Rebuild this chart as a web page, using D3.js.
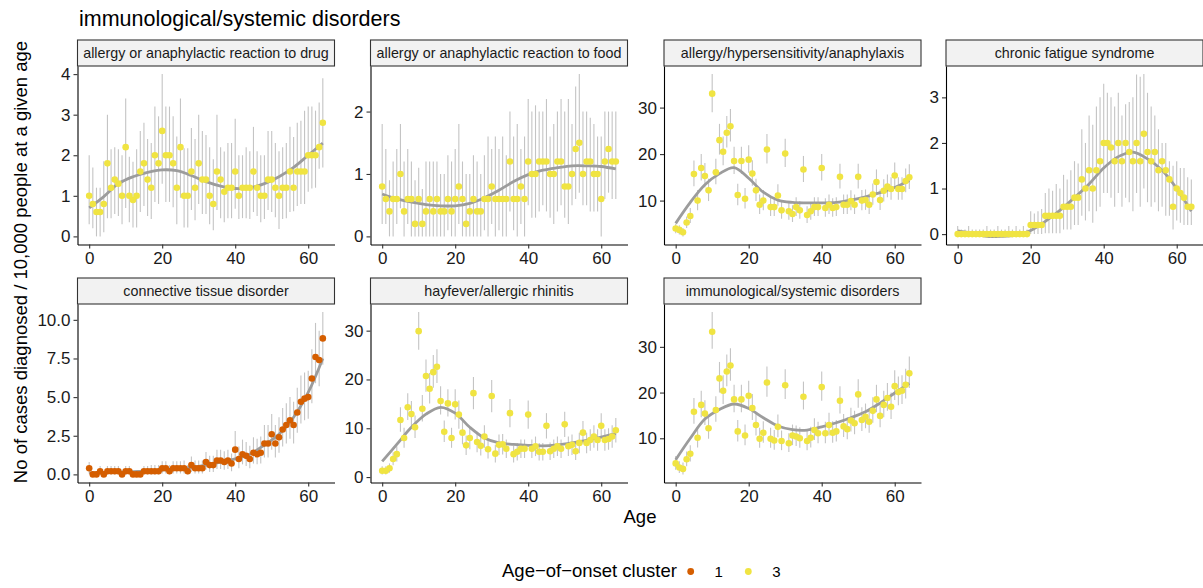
<!DOCTYPE html>
<html>
<head>
<meta charset="utf-8">
<script src="https://cdn.jsdelivr.net/npm/d3@7"></script>
<style>
  body { margin: 0; background: #ffffff; }
  svg { display: block; font-family: "Liberation Sans", Arial, Helvetica, sans-serif; }
</style>
</head>
<body>
<svg id="chart" width="1203" height="588"></svg>
<script>
// ---- Data: diagnoses per 10,000 people at each age (0-64) ----
const ages = [0,1,2,3,4,5,6,7,8,9,10,11,12,13,14,15,16,17,18,19,20,21,22,23,24,25,26,27,28,29,30,31,32,33,34,35,36,37,38,39,40,41,42,43,44,45,46,47,48,49,50,51,52,53,54,55,56,57,58,59,60,61,62,63,64];
const smoothAges = [0,4,8,12,16,20,24,28,32,36,40,44,48,52,56,60,64];

const panelTitles = [
  "allergy or anaphylactic reaction to drug",
  "allergy or anaphylactic reaction to food",
  "allergy/hypersensitivity/anaphylaxis",
  "chronic fatigue syndrome",
  "connective tissue disorder",
  "hayfever/allergic rhinitis",
  "immunological/systemic disorders"
];
const panelCluster = [3, 3, 3, 3, 1, 3, 3];

const drugRate  = [1.0,0.8,0.6,0.6,0.8,1.8,1.2,1.4,1.3,1.0,2.2,1.0,0.9,1.0,1.6,1.8,1.4,1.2,2.0,1.8,2.6,2.0,2.0,1.8,1.2,2.2,1.0,1.0,1.6,1.2,1.8,1.4,1.4,1.0,0.8,1.6,1.4,1.1,1.2,1.2,1.6,1.0,1.2,1.2,1.2,1.6,1.2,1.0,1.0,1.4,1.4,1.2,1.0,1.2,1.2,1.6,1.2,1.6,1.6,1.6,2.0,2.0,2.0,2.2,2.8];
const drugLower = [0.3,0.2,0.0,0.0,0.1,0.45,0.45,0.55,0.5,0.3,0.7,0.35,0.22,0.22,0.6,0.75,0.5,0.43,0.85,0.8,1.3,0.85,0.85,0.72,0.3,0.95,0.22,0.22,0.65,0.4,0.8,0.55,0.55,0.3,0.15,0.65,0.45,0.35,0.45,0.45,0.68,0.43,0.45,0.45,0.43,0.6,0.5,0.35,0.43,0.65,0.6,0.47,0.18,0.43,0.45,0.6,0.62,0.75,0.8,0.8,1.1,1.18,1.2,1.67,1.7];
const drugUpper = [2.0,1.7,1.2,1.2,1.85,3.0,2.15,2.2,2.15,2.0,3.4,1.96,1.84,2.15,2.6,2.8,2.4,2.3,3.2,2.96,4.0,3.2,3.2,2.96,2.46,3.4,2.17,2.17,2.67,2.4,3.0,2.6,2.5,2.2,1.9,3.0,2.2,2.09,2.3,2.3,2.9,2.0,2.0,2.2,2.1,2.7,2.1,2.0,2.0,2.6,2.6,2.3,2.1,2.2,2.3,2.7,2.45,2.8,2.85,3.1,3.2,3.2,3.1,3.3,3.9];
const drugSmooth = [0.7,0.98,1.3,1.47,1.58,1.64,1.62,1.5,1.35,1.24,1.18,1.2,1.3,1.47,1.7,2.0,2.3];

const foodRate  = [0.8,0.6,0.4,0.6,0.6,1.0,0.4,0.6,0.6,0.2,0.6,0.2,0.4,0.6,0.4,0.6,0.4,0.4,0.6,0.4,0.6,0.8,0.6,0.2,0.4,0.6,0.4,0.4,0.6,0.6,0.8,0.6,0.6,0.6,0.6,1.2,0.6,0.6,0.8,0.6,1.2,1.0,1.0,1.2,1.2,1.2,1.0,1.0,1.2,1.2,0.8,0.8,1.0,1.4,1.5,1.0,1.2,1.2,1.0,1.0,0.6,1.2,1.4,1.2,1.2];
const foodLower = [0.2,0.2,0.0,0.0,0.2,0.45,0.0,0.2,0.0,0.0,0.0,0.0,0.0,0.0,0.0,0.0,0.0,0.0,0.1,0.0,0.0,0.2,0.0,0.0,0.0,0.0,0.0,0.0,0.1,0.0,0.2,0.0,0.1,0.0,0.0,0.4,0.1,0.0,0.2,0.0,0.5,0.3,0.3,0.4,0.5,0.4,0.3,0.2,0.4,0.5,0.3,0.2,0.5,0.6,0.7,0.5,0.5,0.4,0.4,0.4,0.0,0.6,0.7,0.6,0.6];
const foodUpper = [1.8,1.4,0.9,1.2,1.4,1.8,1.2,1.4,1.2,0.9,1.1,0.76,1.2,1.2,1.2,1.2,1.0,1.0,1.3,1.2,1.4,1.8,1.2,1.0,1.0,1.3,1.2,1.0,1.3,1.6,1.4,1.6,1.4,1.6,1.3,2.0,1.6,1.8,1.4,1.6,2.2,2.0,2.1,2.0,2.0,2.2,1.6,1.8,2.0,2.2,2.0,2.2,1.8,2.4,2.6,2.0,2.0,1.9,1.8,1.6,1.6,2.0,2.0,2.0,2.0];
const foodSmooth = [0.68,0.6,0.55,0.51,0.49,0.49,0.53,0.62,0.74,0.88,0.99,1.06,1.1,1.13,1.13,1.12,1.08];

const hyperRate  = [4.0,3.7,3.2,5.3,6.7,15.7,10.0,17.0,15.3,12.2,33.0,16.1,23.0,20.5,24.6,26.0,18.5,11.2,18.5,10.4,18.8,15.8,12.2,9.1,10.0,21.0,8.6,8.6,11.1,7.9,20.1,7.7,7.1,8.6,7.9,16.7,6.9,7.7,8.6,8.6,17.0,8.4,9.1,8.4,8.6,15.1,9.1,9.1,9.9,9.1,15.1,10.0,10.1,9.1,11.3,14.0,10.1,12.1,13.0,12.5,15.4,12.5,12.5,14.2,15.0];
const hyperLower = [3.0,2.7,2.3,4.1,5.2,13.1,7.9,14.3,12.8,9.9,29.0,13.5,19.9,17.6,21.4,22.7,15.7,9.0,15.7,8.3,16.0,13.2,9.9,7.1,7.9,18.0,6.7,6.7,8.9,6.1,17.2,5.9,5.4,6.7,6.1,14.0,5.2,5.9,6.7,6.7,14.3,6.5,7.1,6.5,6.7,12.6,7.1,7.1,7.9,7.1,12.6,7.9,8.0,7.1,9.1,11.6,8.0,9.8,10.7,10.2,12.9,10.2,10.2,11.8,12.5];
const hyperUpper = [5.0,4.7,4.1,6.6,8.4,18.6,12.3,20.0,18.1,14.7,37.2,19.0,26.5,23.8,28.2,29.7,21.6,13.6,21.6,12.7,21.9,18.7,14.7,11.3,12.3,24.3,10.7,10.7,13.5,9.9,23.3,9.7,9.0,10.7,9.9,19.6,8.8,9.7,10.7,10.7,20.0,10.5,11.3,10.5,10.7,17.9,11.3,11.3,12.2,11.3,17.9,12.3,12.4,11.3,13.7,16.7,12.4,14.6,15.6,15.0,18.2,15.0,15.0,16.9,17.8];
const hyperSmooth = [5.1,9.6,13.4,15.8,17.1,14.8,11.8,10.1,9.6,9.5,9.5,9.6,10.1,10.8,11.7,12.8,14.3];

const cfsRate  = [0,0,0,0,0,0,0,0,0,0,0,0,0,0,0,0,0,0,0,0,0.2,0.2,0.2,0.2,0.4,0.4,0.4,0.4,0.4,0.6,0.6,0.6,0.8,0.8,1.2,1.0,1.4,1.0,1.4,1.6,2.0,2.0,1.9,1.6,2.0,1.6,2.0,1.8,1.6,2.0,1.6,2.2,1.8,1.6,1.8,1.4,1.6,1.4,1.2,0.6,1.0,0.9,0.8,0.6,0.6];
const cfsLower = [0,0,0,0,0,0,0,0,0,0,0,0,0,0,0,0,0,0,0,0,0,0,0,0,0.02,0.02,0.02,0.02,0.02,0.1,0.1,0.1,0.2,0.2,0.4,0.3,0.5,0.25,0.5,0.6,0.9,0.9,0.8,0.6,0.9,0.6,0.8,0.7,0.5,0.9,0.6,1.0,0.7,0.6,0.7,0.5,0.6,0.4,0.4,0.1,0.3,0.25,0.2,0.2,0.2];
const cfsUpper = [0.18,0.1,0.1,0.18,0.1,0.1,0.1,0.1,0.18,0.1,0.1,0.18,0.1,0.1,0.18,0.1,0.18,0.1,0.18,0.1,0.5,0.45,0.5,0.55,0.9,1.0,0.95,1.1,1.0,1.3,1.2,1.4,1.6,1.55,2.3,2.0,2.6,2.4,2.8,3.0,3.3,3.1,3.0,2.8,3.1,2.6,2.85,2.9,3.0,3.5,3.45,3.51,3.1,2.8,2.6,2.3,2.0,2.0,1.6,1.5,1.6,1.45,1.45,1.25,1.2];
const cfsSmooth = [0.07,0.02,-0.05,-0.05,-0.02,0.08,0.28,0.52,0.8,1.1,1.45,1.7,1.8,1.65,1.4,1.0,0.5];

const connRate  = [0.4,0.0,0.0,0.2,0.0,0.2,0.2,0.2,0.2,0.0,0.2,0.2,0.0,0.0,0.0,0.2,0.2,0.2,0.2,0.2,0.4,0.4,0.2,0.4,0.4,0.4,0.4,0.2,0.6,0.4,0.4,0.4,0.8,0.6,0.6,0.9,0.9,0.8,0.9,0.7,1.6,1.0,1.3,1.2,1.0,1.4,1.3,1.4,2.0,2.0,2.6,2.0,2.4,2.9,3.2,3.5,3.2,4.0,4.7,4.9,5.0,6.2,7.6,7.4,8.8];
const connLower = [0.05,0,0,0,0,0,0,0,0,0,0,0,0,0,0,0,0,0,0,0,0.05,0.05,0,0.05,0.05,0.05,0.05,0,0.15,0.05,0.05,0.05,0.3,0.15,0.15,0.35,0.35,0.3,0.35,0.2,0.9,0.4,0.65,0.55,0.4,0.7,0.65,0.7,1.1,1.1,1.6,1.1,1.4,1.8,2.0,2.3,2.0,2.7,3.3,3.5,3.6,4.6,5.9,5.7,7.1];
const connUpper = [0.8,0.2,0.2,0.55,0.2,0.55,0.55,0.55,0.55,0.2,0.55,0.55,0.2,0.2,0.2,0.55,0.55,0.6,0.6,0.6,0.85,0.85,0.6,0.85,0.85,0.85,0.9,0.6,1.15,0.9,0.9,0.9,1.45,1.2,1.2,1.6,1.6,1.5,1.6,1.35,2.8,1.8,2.25,2.1,1.85,2.4,2.3,2.45,3.2,3.2,3.9,3.2,3.7,4.3,4.6,5.0,4.7,5.6,6.4,6.6,6.7,8.1,9.8,9.3,10.5];
const connSmooth = [0.1,0.1,0.15,0.18,0.2,0.28,0.35,0.45,0.6,0.8,1.0,1.3,1.9,2.6,3.7,5.3,7.5];

const hayRate  = [1.3,1.3,1.8,3.7,4.7,11.7,8.0,14.3,12.9,10.2,29.9,14.0,20.7,18.1,21.5,22.6,15.6,9.3,15.1,8.0,14.9,12.8,9.1,6.5,8.0,17.2,7.2,6.4,8.3,5.7,16.6,4.8,6.6,6.7,5.8,13.1,4.7,5.2,5.8,5.8,12.8,5.8,6.3,5.2,5.2,10.5,5.3,5.8,6.3,5.8,10.8,6.3,6.6,5.3,7.0,9.1,7.0,7.6,8.3,7.6,10.5,7.6,7.8,8.3,9.6];
const hayLower = [0.55,0.55,0.9,2.4,3.2,9.3,6.0,11.7,10.4,8.0,26.1,11.4,17.5,15.1,18.3,19.3,12.8,7.2,12.4,6.0,11.8,9.9,6.7,4.5,5.7,13.9,5.1,4.4,6.0,3.8,13.3,3.0,4.5,4.6,3.9,10.2,3.0,3.4,3.9,3.9,9.9,3.9,4.3,3.4,3.4,7.9,3.5,3.9,4.3,3.9,8.2,4.3,4.5,3.5,4.9,6.7,4.9,5.4,6.0,5.4,7.9,5.4,5.6,6.0,7.1];
const hayUpper = [2.2,2.2,2.8,5.1,6.3,14.3,10.1,17.2,15.6,12.6,33.8,16.8,24.1,21.3,25.0,26.2,18.6,11.6,18.0,10.1,18.0,15.7,11.5,8.5,10.3,20.5,9.3,8.4,10.6,7.6,19.9,6.6,8.7,8.8,7.7,16.0,6.4,7.0,7.7,7.7,15.7,7.7,8.3,7.0,7.0,13.1,7.1,7.7,8.3,7.7,13.4,8.3,8.7,7.1,9.1,11.5,9.1,9.8,10.6,9.8,13.1,9.8,10.0,10.6,12.1];
const haySmooth = [3.2,6.7,10.2,12.9,14.3,13.1,10.2,8.0,7.0,6.7,6.5,6.4,6.6,7.0,7.5,8.2,8.9];

const sysRate  = [4.5,3.6,3.3,5.4,6.6,15.8,10.1,17.3,15.4,12.2,33.3,16.2,23.1,20.4,24.6,25.9,18.5,11.5,18.5,10.6,19.3,16.6,12.9,9.9,11.2,22.2,9.9,9.5,12.5,9.4,21.6,8.9,10.6,10.4,10.0,19.1,9.4,10.1,11.8,11.1,21.2,11.1,12.9,11.2,11.5,18.2,12.6,12.0,13.9,13.3,19.6,14.0,14.7,13.6,16.0,18.5,14.9,17.3,18.8,16.9,21.4,20.1,20.4,21.7,24.2];
const sysLower = [3.1,2.4,2.1,3.9,4.9,13.2,8.0,14.6,12.9,9.9,29.6,13.6,20.0,17.5,21.4,22.6,15.7,9.3,15.7,8.5,16.4,14.0,10.6,7.9,9.0,19.1,7.9,7.5,10.2,7.4,18.6,7.0,8.5,8.3,7.9,16.3,7.4,8.0,9.6,8.9,18.2,8.9,10.6,9.0,9.3,15.4,10.3,9.8,11.5,10.9,16.7,11.6,12.2,11.2,13.4,15.7,12.4,14.6,16.0,14.2,18.4,17.2,17.5,18.7,21.0];
const sysUpper = [6.1,5.0,4.7,7.1,8.5,18.8,12.5,20.4,18.3,14.8,37.6,19.2,26.7,23.8,28.3,29.7,21.7,14.0,21.7,13.0,22.6,19.7,15.6,12.3,13.7,25.7,12.3,11.8,15.2,11.7,25.1,11.1,13.0,12.8,12.4,22.4,11.7,12.5,14.4,13.6,24.6,13.6,15.6,13.7,14.0,21.4,15.3,14.6,16.7,16.0,22.9,16.8,17.6,16.4,19.0,21.7,17.8,20.4,22.1,20.0,24.9,23.5,23.8,25.2,27.9];
const sysSmooth = [5.3,10.0,14.2,16.3,17.5,16.5,14.5,12.7,11.9,11.8,12.5,13.4,14.5,15.8,17.7,19.9,22.0];

// Axis ticks
const xTicks = [0, 20, 40, 60];
const yTicks = [
  [0, 1, 2, 3, 4],
  [0, 1, 2],
  [10, 20, 30],
  [0, 1, 2, 3],
  [0, 2.5, 5, 7.5, 10],
  [0, 10, 20, 30],
  [10, 20, 30]
];
const yTickLabels = [
  ["0", "1", "2", "3", "4"],
  ["0", "1", "2"],
  ["10", "20", "30"],
  ["0", "1", "2", "3"],
  ["0.0", "2.5", "5.0", "7.5", "10.0"],
  ["0", "10", "20", "30"],
  ["10", "20", "30"]
];

const clusterColour = { 1: "#D55E00", 3: "#F0E442" };
const legendClusters = [1, 3];

const panels = [
  { rate: drugRate,  lower: drugLower,  upper: drugUpper,  smooth: drugSmooth },
  { rate: foodRate,  lower: foodLower,  upper: foodUpper,  smooth: foodSmooth },
  { rate: hyperRate, lower: hyperLower, upper: hyperUpper, smooth: hyperSmooth },
  { rate: cfsRate,   lower: cfsLower,   upper: cfsUpper,   smooth: cfsSmooth },
  { rate: connRate,  lower: connLower,  upper: connUpper,  smooth: connSmooth },
  { rate: hayRate,   lower: hayLower,   upper: hayUpper,   smooth: haySmooth },
  { rate: sysRate,   lower: sysLower,   upper: sysUpper,   smooth: sysSmooth }
].map((p, i) => Object.assign(p, {
  title: panelTitles[i], cluster: panelCluster[i], ticks: yTicks[i], tickLabels: yTickLabels[i]
}));

// ---- Layout ----
const colLeft = [77.5, 370.5, 664, 946];
const panelW = 257;
const stripTop = [40, 278];
const stripH = 26;
const panelH = 178.5;
const xDomain = [-3.2, 67.2];
const tickFont = 17;

const svg = d3.select("#chart");

panels.forEach((p, i) => {
  const row = Math.floor(i / 4), col = i % 4;
  const left = colLeft[col], right = left + panelW;
  const top = stripTop[row] + stripH, bottom = top + panelH;

  const x = d3.scaleLinear().domain(xDomain).range([left, right]);
  const lo = Math.min(d3.min(p.lower), d3.min(p.smooth));
  const hi = Math.max(d3.max(p.upper), d3.max(p.smooth));
  const pad = (hi - lo) * 0.05;
  const y = d3.scaleLinear().domain([lo - pad, hi + pad]).range([bottom, top]);

  const g = svg.append("g").attr("class", "panel");

  // facet strip
  g.append("rect")
    .attr("x", left).attr("y", stripTop[row])
    .attr("width", panelW).attr("height", stripH)
    .attr("fill", "#F2F2F2").attr("stroke", "#333333").attr("stroke-width", 1.1);
  g.append("text")
    .attr("x", (left + right) / 2).attr("y", stripTop[row] + stripH / 2 + 5)
    .attr("text-anchor", "middle").attr("font-size", 14.3).attr("fill", "#1A1A1A")
    .text(p.title);

  // confidence intervals
  g.append("g").selectAll("line").data(ages).join("line")
    .attr("x1", a => x(a)).attr("x2", a => x(a))
    .attr("y1", (a, k) => y(p.lower[k])).attr("y2", (a, k) => y(p.upper[k]))
    .attr("stroke", "#C4C4C4").attr("stroke-width", 1.1);

  // smoothed trend
  const trend = d3.line()
    .x(a => x(a)).y((a, k) => y(p.smooth[k]))
    .curve(d3.curveCatmullRom.alpha(0.5));
  g.append("path").datum(smoothAges)
    .attr("d", trend).attr("fill", "none")
    .attr("stroke", "#9C9C9C").attr("stroke-width", 2.8).attr("stroke-linecap", "butt");

  // observed rates
  g.append("g").selectAll("circle").data(ages).join("circle")
    .attr("cx", a => x(a)).attr("cy", (a, k) => y(p.rate[k]))
    .attr("r", 3.3).attr("fill", clusterColour[p.cluster]);

  // axes
  const xAxis = g.append("g").attr("transform", `translate(0,${bottom})`)
    .call(d3.axisBottom(x).tickValues(xTicks).tickSize(4).tickSizeOuter(0).tickPadding(3));
  const yAxis = g.append("g").attr("transform", `translate(${left},0)`)
    .call(d3.axisLeft(y).tickValues(p.ticks).tickSize(4).tickSizeOuter(0).tickPadding(3)
      .tickFormat((d, k) => p.tickLabels[k]));
  [xAxis, yAxis].forEach(ax => {
    ax.select(".domain").attr("stroke", "#000").attr("stroke-width", 1.1);
    ax.selectAll(".tick line").attr("stroke", "#333").attr("stroke-width", 1.1);
    ax.selectAll(".tick text").attr("font-size", tickFont).attr("fill", "#1A1A1A")
      .attr("font-family", '"Liberation Sans", Arial, sans-serif');
  });
});

// ---- Titles ----
svg.append("text").attr("x", 79).attr("y", 26)
  .attr("font-size", 21.5).attr("fill", "#000")
  .text("immunological/systemic disorders");

svg.append("text")
  .attr("transform", "translate(27,262) rotate(-90)")
  .attr("text-anchor", "middle").attr("font-size", 18.5).attr("fill", "#000")
  .text("No of cases diagnosed / 10,000 people at a given age");

svg.append("text").attr("x", 640).attr("y", 523)
  .attr("text-anchor", "middle").attr("font-size", 18.5).attr("fill", "#000")
  .text("Age");

// ---- Legend ----
const legend = svg.append("g");
legend.append("text").attr("x", 502).attr("y", 577)
  .attr("font-size", 18.5).attr("fill", "#000")
  .text("Age\u2212of\u2212onset cluster");
const legendX = d3.scalePoint().domain(legendClusters).range([690.7, 748.3]);
const item = legend.selectAll("g.item").data(legendClusters).join("g").attr("class", "item");
item.append("circle").attr("cx", c => legendX(c)).attr("cy", 571.5).attr("r", 3.4)
  .attr("fill", c => clusterColour[c]);
item.append("text").attr("x", c => legendX(c) + 28).attr("y", 577)
  .attr("text-anchor", "middle").attr("font-size", 15).attr("fill", "#000")
  .text(c => c);
</script>
</body>
</html>
